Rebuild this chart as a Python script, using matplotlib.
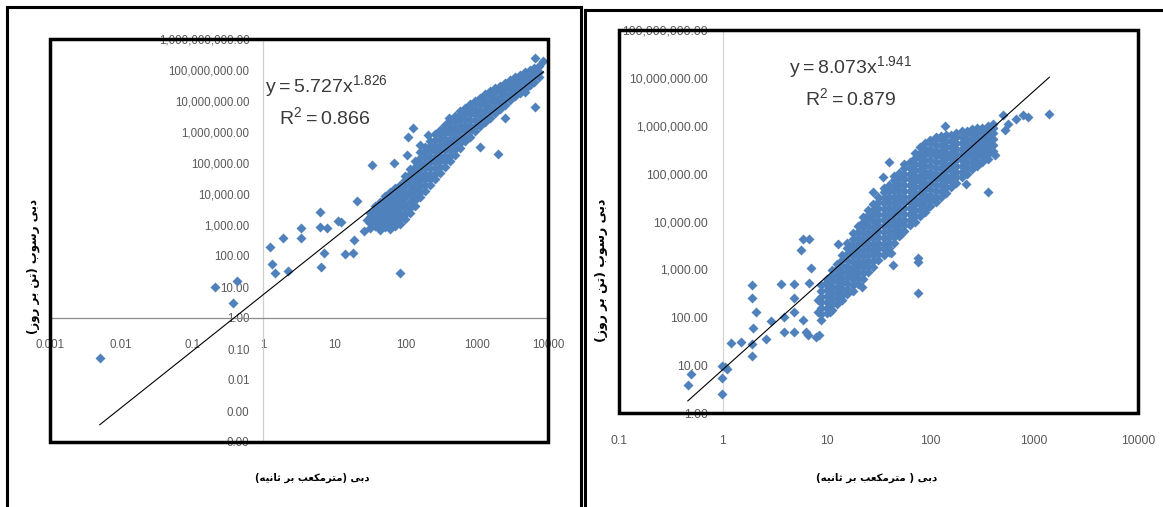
import numpy as np
import matplotlib
matplotlib.use("Agg")
import matplotlib.pyplot as plt
from matplotlib.ticker import FixedLocator, FuncFormatter, NullLocator
from matplotlib.patches import Rectangle

plt.rcParams['font.family'] = ['Liberation Sans', 'DejaVu Sans']

# ---------------- data ----------------
# Left panel: discharge (m3/s) columns with the sediment discharge (ton/day) values read at them
left_columns = [
    (31.6, [794, 1200, 1820, 2510]),
    (37.2, [912, 1380, 2090, 3160, 3980]),
    (43.7, [708, 1070, 1620, 2450, 3720, 5620]),
    (51.3, [871, 1320, 2000, 3020, 4570, 6920, 8320]),
    (60.3, [759, 1150, 1740, 2630, 3980, 6030, 9120, 11500]),
    (70.8, [933, 1410, 2140, 3240, 4900, 7410, 11200, 15800]),
    (83.2, [1100, 1660, 2510, 3800, 5750, 8710, 13200, 20000]),
    (97.7, [1510, 2290, 3470, 5250, 7940, 12000, 18200, 27500, 37200]),
    (115, [2400, 3630, 5500, 8320, 12600, 19100, 28800, 43700, 66100]),
    (135, [4170, 6310, 9550, 14500, 21900, 33100, 50100, 75900, 115000]),
    (158, [7940, 12000, 18200, 27500, 41700, 63100, 95500, 145000, 219000]),
    (186, [12900, 19500, 29500, 44700, 67600, 102000, 155000, 234000, 339000]),
    (219, [20000, 30200, 45700, 69200, 105000, 158000, 240000, 363000, 525000]),
    (257, [30200, 45700, 69200, 105000, 158000, 240000, 363000, 550000, 832000]),
    (302, [49000, 74100, 112000, 170000, 257000, 389000, 589000, 891000, 1150000]),
    (355, [75900, 115000, 174000, 263000, 398000, 603000, 912000, 1380000, 1700000]),
    (417, [115000, 174000, 263000, 398000, 603000, 912000, 1380000, 2090000, 2450000]),
    (490, [186000, 282000, 427000, 646000, 977000, 1480000, 2240000, 3390000]),
    (575, [302000, 457000, 692000, 1050000, 1580000, 2400000, 3630000, 4680000]),
    (676, [501000, 759000, 1150000, 1740000, 2630000, 3980000, 6170000]),
    (794, [708000, 1070000, 1620000, 2450000, 3720000, 5620000, 7940000]),
    (933, [1070000, 1620000, 2450000, 3720000, 5620000, 8510000, 10000000]),
    (1100, [1510000, 2290000, 3470000, 5250000, 7940000, 12600000]),
    (1290, [2090000, 3160000, 4790000, 7240000, 11000000, 16600000]),
    (1510, [2880000, 4370000, 6610000, 10000000, 15100000, 20900000]),
    (1780, [3980000, 6030000, 9120000, 13800000, 20900000, 26900000]),
    (2090, [5500000, 8320000, 12600000, 19100000, 31600000]),
    (2450, [7590000, 11500000, 17400000, 26300000, 38900000]),
    (2880, [10500000, 15800000, 24000000, 36300000, 49000000]),
    (3390, [14100000, 21400000, 32400000, 49000000, 60300000]),
    (3980, [17800000, 26900000, 40700000, 67600000]),
    (4680, [24500000, 37200000, 56200000, 83200000]),
    (5500, [33100000, 50100000, 75900000, 97700000]),
    (6460, [41700000, 63100000, 95500000, 115000000]),
    (7590, [57500000, 87100000, 135000000]),
]
left_outliers = [
    (0.005, 0.052), (0.21, 9.8), (0.37, 3.0), (0.43, 15.6), (1.24, 200), (1.33, 55),
    (1.46, 28), (1.87, 370), (2.24, 34), (3.4, 780), (3.4, 370), (6.2, 2570),
    (6.2, 890), (6.5, 43), (7.0, 128), (7.9, 815), (11, 1380), (12.3, 1230),
    (14, 115), (18, 128), (18.8, 330), (21, 5900), (26, 655), (29, 1450), (83, 29),
    (34, 87000), (68, 102000), (103, 182000), (109, 676000), (128, 1300000),
    (158, 380000), (209, 800000), (408, 2780000), (1106, 337000), (2000, 195000),
    (2500, 2780000), (4750, 20000000), (6560, 6600000), (6600, 250000000),
    (8600, 190000000),
]
left_fit = (5.727, 1.826)
left_r2 = 0.866
left_xticks = [0.001, 0.01, 0.1, 1, 10, 100, 1000, 10000]
left_yticks = [1e-4, 1e-3, 1e-2, 1e-1, 1, 10, 100, 1e3, 1e4, 1e5, 1e6, 1e7, 1e8, 1e9]

# Right panel
right_columns = [
    (8.9, [89, 117, 155, 204, 269, 355, 468]),
    (10.0, [120, 158, 209, 275, 363, 479, 631]),
    (11.2, [141, 186, 245, 324, 427, 562, 741, 977]),
    (12.6, [191, 251, 331, 437, 575, 759, 1000, 1320]),
    (14.1, [224, 295, 389, 513, 676, 891, 1170, 1550, 2040]),
    (15.8, [302, 398, 525, 692, 912, 1200, 1580, 2090, 2750, 3550]),
    (17.8, [355, 468, 617, 813, 1070, 1410, 1860, 2450, 3240, 4270, 5620]),
    (20.0, [501, 661, 871, 1150, 1510, 2000, 2630, 3470, 4570, 6030, 7940]),
    (22.4, [631, 832, 1100, 1450, 1910, 2510, 3310, 4370, 5750, 7590, 10000, 12600]),
    (25.1, [871, 1150, 1510, 2000, 2630, 3470, 4570, 6030, 7940, 10500, 13800, 17800]),
    (28.2, [1120, 1480, 1950, 2570, 3390, 4470, 5890, 7760, 10200, 13500, 17800, 23400]),
    (31.6, [1580, 2090, 2750, 3630, 4790, 6310, 8320, 11000, 14500, 19100, 25100, 33100]),
    (35.5, [2000, 2630, 3470, 4570, 6030, 7940, 10500, 13800, 18200, 24000, 31600, 41700, 50100]),
    (39.8, [2750, 3630, 4790, 6310, 8320, 11000, 14500, 19100, 25100, 33100, 43700, 57500]),
    (44.7, [3550, 4680, 6170, 8130, 10700, 14100, 18600, 24500, 32400, 42700, 56200, 74100, 89100]),
    (50.1, [5010, 6610, 8710, 11500, 15100, 20000, 26300, 34700, 45700, 60300, 79400, 105000]),
    (56.2, [6310, 8320, 11000, 14500, 19100, 25100, 33100, 43700, 57500, 75900, 100000, 132000, 158000]),
    (63.1, [8320, 11000, 14500, 19100, 25100, 33100, 43700, 57500, 75900, 100000, 132000, 174000]),
    (70.8, [10000, 13200, 17400, 22900, 30200, 39800, 52500, 69200, 91200, 120000, 158000, 209000, 275000]),
    (79.4, [13200, 17400, 22900, 30200, 39800, 52500, 69200, 91200, 120000, 158000, 209000, 275000, 355000]),
    (89.1, [15800, 20900, 27500, 36300, 47900, 63100, 83200, 110000, 145000, 191000, 251000, 331000, 437000]),
    (100, [20900, 27500, 36300, 47900, 63100, 83200, 110000, 145000, 191000, 251000, 331000, 437000, 501000]),
    (112, [25100, 33100, 43700, 57500, 75900, 100000, 132000, 174000, 229000, 302000, 398000, 525000]),
    (126, [33100, 43700, 57500, 75900, 100000, 132000, 174000, 229000, 302000, 398000, 525000, 603000]),
    (141, [39800, 52500, 69200, 91200, 120000, 158000, 209000, 275000, 363000, 479000, 631000]),
    (158, [52500, 69200, 91200, 120000, 158000, 209000, 275000, 363000, 479000, 631000]),
    (178, [63100, 83200, 110000, 145000, 191000, 251000, 331000, 437000, 575000, 708000]),
    (200, [83200, 110000, 145000, 191000, 251000, 331000, 437000, 575000, 759000]),
    (224, [100000, 132000, 174000, 229000, 302000, 398000, 525000, 692000, 794000]),
    (251, [126000, 166000, 219000, 288000, 380000, 501000, 661000, 851000]),
    (282, [141000, 186000, 245000, 324000, 427000, 562000, 741000, 891000]),
    (316, [174000, 229000, 302000, 398000, 525000, 692000, 912000]),
    (355, [200000, 263000, 347000, 457000, 603000, 794000, 1000000]),
    (398, [302000, 398000, 525000, 692000, 912000, 1070000]),
]
right_outliers = [
    (0.46, 3.85), (0.49, 6.5), (0.98, 2.5), (0.98, 5.3), (0.98, 9.6), (1.05, 9.0), (1.1, 8.5),
    (1.2, 29), (1.5, 30), (1.9, 15.5), (1.9, 27.5), (1.95, 59), (2.1, 130), (1.9, 247), (1.9, 470),
    (2.6, 35), (2.9, 83), (3.6, 490), (3.9, 100), (3.9, 50), (4.9, 490), (4.9, 247), (4.9, 130),
    (4.9, 50), (5.9, 87), (6.3, 50), (6.6, 43), (6.8, 510), (7.1, 1050), (5.7, 2500), (5.9, 4240),
    (6.8, 4240), (7.9, 39), (8.5, 43), (8.2, 130), (8.2, 229), (9.9, 510), (10.7, 130),
    (12.8, 3400), (22, 430), (28, 42000), (26, 12600), (42, 2150), (43.5, 1230), (76, 1440),
    (76, 316), (137, 1000000), (114, 590000), (40, 175000), (35, 85000), (500, 1660000),
    (780, 1660000), (870, 1550000), (675, 1410000), (565, 1100000), (520, 820000),
    (1400, 1800000), (417, 240000), (222, 62000), (360, 42000), (137, 52000), (95, 20000),
    (52, 5600), (40, 2300), (76, 1700),
]
right_fit = (8.073, 1.941)
right_r2 = 0.879
right_xticks = [0.1, 1, 10, 100, 1000, 10000]
right_yticks = [1, 10, 100, 1e3, 1e4, 1e5, 1e6, 1e7, 1e8]

y_title = 'دبی رسوب (تن بر روز)'
left_x_title = 'دبی (مترمکعب بر ثانیه)'
right_x_title = 'دبی ( مترمکعب بر ثانیه)'

# ---------------- Persian shaping (contextual forms + RTL order) ----------------
FORMS = {
    'ا': ('\uFE8D', '\uFE8E', None, None),
    'ب': ('\uFE8F', '\uFE90', '\uFE91', '\uFE92'),
    'ت': ('\uFE95', '\uFE96', '\uFE97', '\uFE98'),
    'ث': ('\uFE99', '\uFE9A', '\uFE9B', '\uFE9C'),
    'د': ('\uFEA9', '\uFEAA', None, None),
    'ر': ('\uFEAD', '\uFEAE', None, None),
    'ز': ('\uFEAF', '\uFEB0', None, None),
    'س': ('\uFEB1', '\uFEB2', '\uFEB3', '\uFEB4'),
    'ع': ('\uFEC9', '\uFECA', '\uFECB', '\uFECC'),
    'م': ('\uFEE1', '\uFEE2', '\uFEE3', '\uFEE4'),
    'ن': ('\uFEE5', '\uFEE6', '\uFEE7', '\uFEE8'),
    'ه': ('\uFEE9', '\uFEEA', '\uFEEB', '\uFEEC'),
    'و': ('\uFEED', '\uFEEE', None, None),
    'ی': ('\uFBFC', '\uFBFD', '\uFBFE', '\uFBFF'),
    'ک': ('\uFB8E', '\uFB8F', '\uFB90', '\uFB91'),
}


def shape_rtl(s):
    out = []
    for i, c in enumerate(s):
        if c not in FORMS:
            out.append(c)
            continue
        prev = s[i - 1] if i > 0 else ''
        nxt = s[i + 1] if i + 1 < len(s) else ''
        jp = prev in FORMS and FORMS[prev][2] is not None
        jn = nxt in FORMS and FORMS[c][2] is not None
        iso, fin, ini, med = FORMS[c]
        if jp and jn:
            out.append(med)
        elif jp:
            out.append(fin)
        elif jn:
            out.append(ini)
        else:
            out.append(iso)
    vis = ''.join(reversed(out))
    return vis.translate(str.maketrans('()', ')('))


def flatten(columns, outliers):
    xs, ys = [], []
    for q, vals in columns:
        for v in vals:
            xs.append(q)
            ys.append(v)
    for q, v in outliers:
        xs.append(q)
        ys.append(v)
    return xs, ys


# ---------------- figure ----------------
W, H = 1163, 507
fig = plt.figure(figsize=(W / 100, H / 100), dpi=100)
fig.patch.set_facecolor('white')

BLUE = '#4F81BD'
LABEL_C = '#595959'
TITLE_FONT = ['DejaVu Sans']


def px_rect(x0, y0, x1, y1):
    return [x0 / W, (H - y1) / H, (x1 - x0) / W, (y1 - y0) / H]


def fig_line(x0, y0, x1, y1, lw=2.2):
    fig.add_artist(plt.Line2D([x0 / W, x1 / W], [(H - y0) / H, (H - y1) / H],
                              transform=fig.transFigure, color='black', lw=lw,
                              solid_capstyle='projecting'))


# outer chart frames (bottom edges fall outside the picture)
fig_line(7, 7, 581, 7)
fig_line(7, 7, 7, 520)
fig_line(581, 7, 581, 520)
fig_line(585, 10, 1175, 10)
fig_line(585, 10, 585, 520)


def panel(rect, xlim, ylim, xticks, yticks, xpad, ypad, fs, vcol, hcol):
    ax = fig.add_axes(px_rect(*rect))
    ax.set_xscale('log')
    ax.set_yscale('log')
    ax.set_xlim(*xlim)
    ax.set_ylim(*ylim)
    ax.xaxis.set_major_locator(FixedLocator(xticks))
    ax.yaxis.set_major_locator(FixedLocator(yticks))
    ax.xaxis.set_minor_locator(NullLocator())
    ax.yaxis.set_minor_locator(NullLocator())
    ax.xaxis.set_major_formatter(FuncFormatter(lambda v, p: f"{v:g}"))
    ax.yaxis.set_major_formatter(FuncFormatter(lambda v, p: f"{v:,.2f}"))
    ax.spines['top'].set_visible(False)
    ax.spines['right'].set_visible(False)
    ax.spines['left'].set_position(('data', 1))
    ax.spines['bottom'].set_position(('data', 1))
    ax.spines['left'].set_color(vcol)
    ax.spines['bottom'].set_color(hcol)
    ax.spines['left'].set_linewidth(0.9)
    ax.spines['bottom'].set_linewidth(0.9)
    ax.tick_params(axis='x', length=0, pad=xpad, labelsize=fs, labelcolor=LABEL_C)
    ax.tick_params(axis='y', length=0, pad=ypad, labelsize=fs, labelcolor=LABEL_C)
    ax.add_patch(Rectangle((0, 0), 1, 1, transform=ax.transAxes, fill=False,
                           ec='black', lw=2.5, clip_on=False, zorder=6))
    return ax


# ---- left panel ----
axL = panel((50, 39, 548, 442), (1e-3, 1e4), (1e-4, 1e9), left_xticks, left_yticks,
            15, 10, 8.3, '#cfcfcf', '#8c8c8c')
lx, ly = flatten(left_columns, left_outliers)
axL.plot(lx, ly, ls='none', marker='D', ms=4.6, mfc=BLUE, mec='none', zorder=3)
xs = np.array([min(lx), max(lx)])
axL.plot(xs, left_fit[0] * xs ** left_fit[1], color='black', lw=0.8, zorder=4)

# ---- right panel ----
axR = panel((619, 30, 1138, 413), (0.1, 1e4), (1, 1e8), right_xticks, right_yticks,
            16, 11, 8.7, '#d4d4d4', '#8c8c8c')
rx, ry = flatten(right_columns, right_outliers)
axR.plot(rx, ry, ls='none', marker='D', ms=4.6, mfc=BLUE, mec='none', zorder=3)
xs = np.array([min(rx), max(rx)])
axR.plot(xs, right_fit[0] * xs ** right_fit[1], color='black', lw=0.8, zorder=4)

# ---- trendline equations ----
EQ_C = '#3a3a3a'
fig.text(265 / W, 1 - 86 / H, r'$\mathregular{y = %.3fx^{%.3f}}$' % left_fit,
         fontsize=14, color=EQ_C, ha='left', va='center')
fig.text(279 / W, 1 - 117 / H, r'$\mathregular{R^{2} = %.3f}$' % left_r2,
         fontsize=14, color=EQ_C, ha='left', va='center')
fig.text(789 / W, 1 - 67 / H, r'$\mathregular{y = %.3fx^{%.3f}}$' % right_fit,
         fontsize=14, color=EQ_C, ha='left', va='center')
fig.text(805 / W, 1 - 98 / H, r'$\mathregular{R^{2} = %.3f}$' % right_r2,
         fontsize=14, color=EQ_C, ha='left', va='center')

# ---- axis titles (Persian) ----
fig.text(33 / W, 1 - 267 / H, shape_rtl(y_title), rotation=90, family=TITLE_FONT,
         fontweight='bold', fontsize=8.5, ha='center', va='center', color='black')
fig.text(312 / W, 1 - 478 / H, shape_rtl(left_x_title), family=TITLE_FONT,
         fontweight='bold', fontsize=7.2, ha='center', va='center', color='black')
fig.text(602 / W, 1 - 270 / H, shape_rtl(y_title), rotation=90, family=TITLE_FONT,
         fontweight='bold', fontsize=9, ha='center', va='center', color='black')
fig.text(877 / W, 1 - 478 / H, shape_rtl(right_x_title), family=TITLE_FONT,
         fontweight='bold', fontsize=7.4, ha='center', va='center', color='black')

fig.savefig('out.png', dpi=100, facecolor='white')
